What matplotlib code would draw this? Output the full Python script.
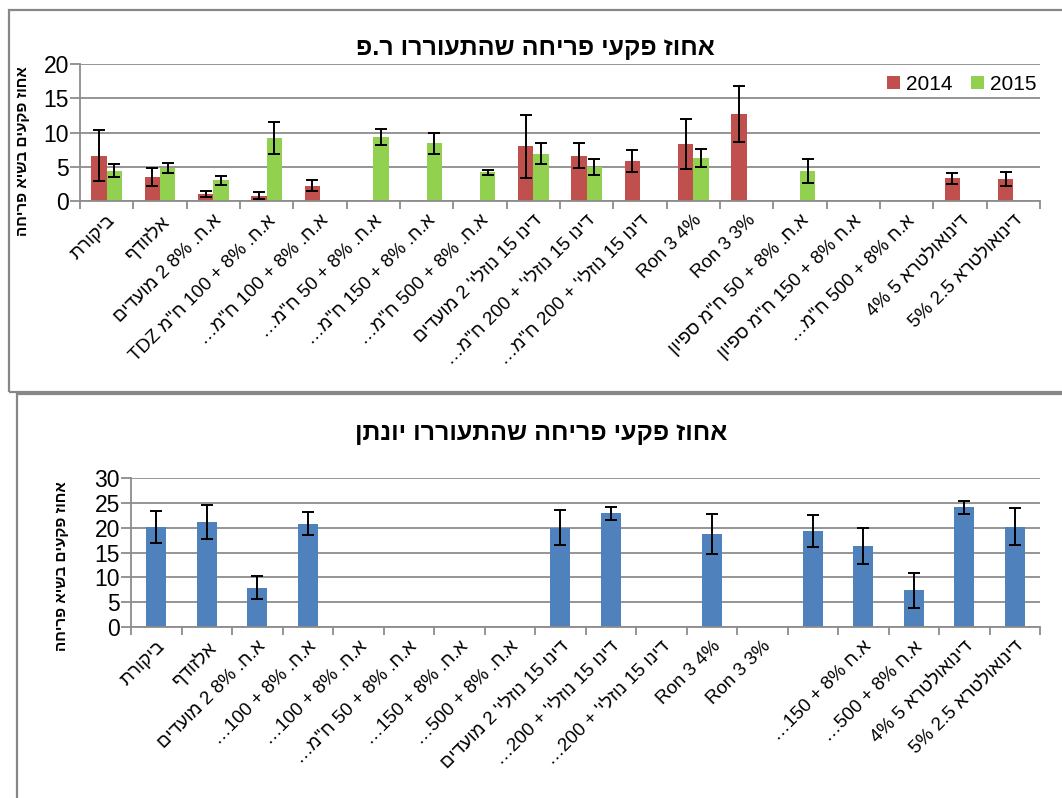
import re
import numpy as np
import matplotlib
matplotlib.use('Agg')
import matplotlib.pyplot as plt
from matplotlib.patches import Rectangle

plt.rcParams['font.family'] = ['Liberation Sans', 'DejaVu Sans']

# ---- data (labels in logical order) ----
labels_top = ['ביקורת', 'אלזודף', 'א.ח. 8% 2 מועדים', 'א.ח. 8% + 100 ח"מ TDZ',
              'א.ח. 8% + 100 ח"מ…', 'א.ח. 8% + 50 ח"מ…', 'א.ח. 8% + 150 ח"מ…',
              'א.ח. 8% + 500 ח"מ…', "דינו 15 נוזלי' 2 מועדים", "דינו 15 נוזלי' + 200 ח\"מ…",
              "דינו 15 נוזלי' + 200 ח\"מ…", 'Ron 3 4%', 'Ron 3 3%', 'א.ח. 8% + 50 ח"מ ספיון',
              'א.ח 8% + 150 ח"מ ספיון', 'א.ח 8% + 500 ח"מ…', 'דינואולטרא 5 4%', 'דינואולטרא 2.5 5%']
vals_2014 = [6.6, 3.5, 1.0, 0.8, 2.2, 0, 0, 0, 8.0, 6.6, 5.8, 8.3, 12.7, 0, 0, 0, 3.3, 3.2]
err_2014 = [3.75, 1.35, 0.4, 0.45, 0.8, 0, 0, 0, 4.6, 1.8, 1.6, 3.6, 4.1, 0, 0, 0, 0.8, 1.05]
vals_2015 = [4.4, 4.85, 3.0, 9.2, 0, 9.35, 8.4, 4.2, 6.9, 5.0, 0, 6.3, 0, 4.4, 0, 0, 0, 0]
err_2015 = [0.95, 0.75, 0.6, 2.4, 0, 1.2, 1.5, 0.35, 1.5, 1.15, 0, 1.3, 0, 1.7, 0, 0, 0, 0]
has_2014 = [1, 1, 1, 1, 1, 0, 0, 0, 1, 1, 1, 1, 1, 0, 0, 0, 1, 1]
has_2015 = [1, 1, 1, 1, 0, 1, 1, 1, 1, 1, 0, 1, 0, 1, 0, 0, 0, 0]

labels_bot = ['ביקורת', 'אלזודף', 'א.ח. 8% 2 מועדים', 'א.ח. 8% + 100…', 'א.ח. 8% + 100…',
              'א.ח. 8% + 50 ח"מ…', 'א.ח. 8% + 150…', 'א.ח. 8% + 500…', "דינו 15 נוזלי' 2 מועדים",
              "דינו 15 נוזלי' + 200…", "דינו 15 נוזלי' + 200…", 'Ron 3 4%', 'Ron 3 3%', '',
              'א.ח 8% + 150…', 'א.ח 8% + 500…', 'דינואולטרא 5 4%', 'דינואולטרא 2.5 5%']
vals_yon = [20.2, 21.2, 7.9, 20.8, 0, 0, 0, 0, 20.0, 22.9, 0, 18.7, 0, 19.3, 16.3, 7.35, 24.1, 20.2]
err_yon = [3.2, 3.4, 2.3, 2.3, 0, 0, 0, 0, 3.5, 1.3, 0, 4.0, 0, 3.2, 3.7, 3.5, 1.3, 3.7]
has_yon = [1, 1, 1, 1, 0, 0, 0, 0, 1, 1, 0, 1, 0, 1, 1, 1, 1, 1]

title_top = 'אחוז פקעי פריחה שהתעוררו ר.פ'
title_bot = 'אחוז פקעי פריחה שהתעוררו יונתן'
ylabel = 'אחוז פקעים בשיא פריחה'


def heb(t):
    return re.search('[\u0590-\u05FF]', t) is not None


def flip(t):
    if heb(t):
        return t[::-1]
    if t.endswith('…'):
        return '…' + t[:-1]
    return t


def visual(s):
    # crude bidi: RTL paragraph, latin word + following numbers kept as one LTR run
    chunks = []
    for t in s.split(' '):
        if not t:
            continue
        if chunks and chunks[-1][0] == 'L' and not heb(t):
            chunks[-1][1].append(t)
        elif re.search('[A-Za-z]', t):
            chunks.append(['L', [t]])
        else:
            chunks.append(['R', [t]])
    out = []
    for kind, ts in reversed(chunks):
        out.append(' '.join(ts) if kind == 'L' else flip(' '.join(ts)))
    return ' '.join(out)


W, H = 1062, 798
fig = plt.figure(figsize=(W / 100, H / 100), dpi=100)
frame_c = '#878787'
fig.patches.append(Rectangle((9 / W, 1 - 392 / H), 1.1, 382 / H, transform=fig.transFigure,
                             fill=False, ec=frame_c, lw=1.6))
fig.patches.append(Rectangle((17 / W, -0.1), 1.1, 1 - 394 / H + 0.1, transform=fig.transFigure,
                             fill=False, ec=frame_c, lw=1.6))

grid_c = '#8c8c8c'


def style(ax, n, ymax, step, labels):
    ax.set_xlim(-0.5, n - 0.5)
    ax.set_ylim(0, ymax)
    ax.set_yticks(np.arange(0, ymax + 0.1, step))
    ax.yaxis.grid(True, color=grid_c, lw=1.3)
    ax.set_axisbelow(True)
    for s in ['top', 'right']:
        ax.spines[s].set_visible(False)
    for s in ['left', 'bottom']:
        ax.spines[s].set_color(grid_c)
        ax.spines[s].set_linewidth(1.3)
    ax.tick_params(axis='y', length=7, color=grid_c, width=1.3, labelsize=16.5, pad=1)
    ax.set_xticks(np.arange(n))
    ax.set_xticks(np.arange(n + 1) - 0.5, minor=True)
    ax.tick_params(axis='x', which='major', length=0, pad=8)
    ax.tick_params(axis='x', which='minor', length=6, color=grid_c, width=1.3)
    ax.set_xticklabels([visual(l) for l in labels], rotation=45, ha='right',
                       rotation_mode='anchor', fontsize=13.5)


x = np.arange(len(labels_top))
ax1 = fig.add_axes([80 / W, 1 - 201 / H, 960 / W, 137 / H])
bw = 0.29
m14 = np.array(has_2014, bool)
m15 = np.array(has_2015, bool)
ax1.bar(x[m14] - bw / 2, np.array(vals_2014)[m14], bw, color='#C0504D', label='2014')
ax1.bar(x[m15] + bw / 2, np.array(vals_2015)[m15], bw, color='#92D050', label='2015')
ax1.errorbar(x[m14] - bw / 2, np.array(vals_2014)[m14], yerr=np.array(err_2014)[m14],
             fmt='none', ecolor='black', elinewidth=1.4, capsize=4, capthick=1.4)
ax1.errorbar(x[m15] + bw / 2, np.array(vals_2015)[m15], yerr=np.array(err_2015)[m15],
             fmt='none', ecolor='black', elinewidth=1.4, capsize=4, capthick=1.4)
style(ax1, len(labels_top), 20, 5, labels_top)
ax1.legend(loc='upper right', bbox_to_anchor=(1.005, 0.98), ncol=2, frameon=False, fontsize=15,
           handlelength=0.6, handleheight=0.6, handletextpad=0.3, columnspacing=0.9,
           borderaxespad=0)

xb = np.arange(len(labels_bot))
ax2 = fig.add_axes([131 / W, 1 - 627 / H, 909 / W, 149 / H])
my = np.array(has_yon, bool)
ax2.bar(xb[my], np.array(vals_yon)[my], 0.4, color='#4F81BD')
ax2.errorbar(xb[my], np.array(vals_yon)[my], yerr=np.array(err_yon)[my], fmt='none',
             ecolor='black', elinewidth=1.4, capsize=4, capthick=1.4)
style(ax2, len(labels_bot), 30, 5, labels_bot)

fig.text(535 / W, 1 - 48 / H, visual(title_top), ha='center', va='center', fontsize=18,
         fontweight='bold')
fig.text(541 / W, 1 - 433 / H, visual(title_bot), ha='center', va='center', fontsize=18,
         fontweight='bold')
fig.text(23 / W, 1 - 151 / H, visual(ylabel), rotation=90, ha='center', va='center',
         fontsize=11, fontweight='bold')
fig.text(62 / W, 1 - 566 / H, visual(ylabel), rotation=90, ha='center', va='center',
         fontsize=11, fontweight='bold')

fig.savefig('out.png', dpi=100)
